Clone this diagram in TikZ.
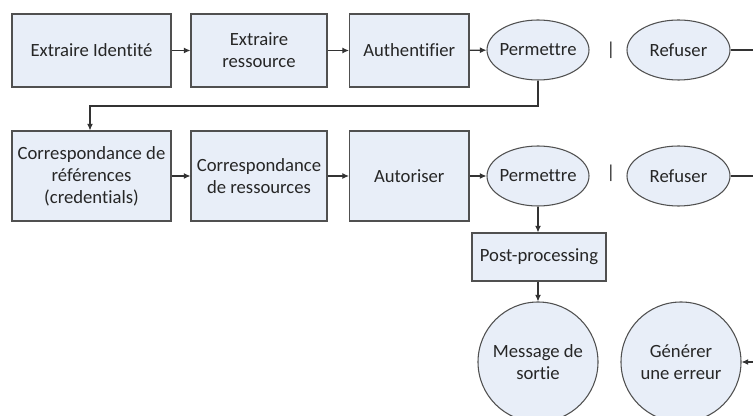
\documentclass[tikz,border=0pt]{standalone}
\usepackage{fontspec}
\setmainfont{Carlito}[Ligatures=NoCommon]
\usetikzlibrary{shapes.geometric,arrows.meta}
\definecolor{boxfill}{RGB}{232,238,248}
\definecolor{boxline}{RGB}{80,80,80}
\definecolor{txt}{RGB}{38,38,38}
\tikzset{
  every node/.style={font=\fontsize{14}{16.5}\selectfont, text=txt},
  stepbox/.style={draw=boxline, fill=boxfill, line width=0.8pt, rectangle, inner sep=0pt, align=center},
  oval/.style={draw=boxline, fill=boxfill, line width=0.8pt, ellipse, inner sep=0pt, minimum width=76.5pt, minimum height=45pt},
  roundnode/.style={draw=boxline, fill=boxfill, line width=0.8pt, circle, inner sep=0pt, minimum size=90pt, align=center},
  conn/.style={draw=black!80, line width=0.8pt},
  arr/.style={conn, -{Latex[length=5pt,width=4.5pt]}},
}
\begin{document}
\begin{tikzpicture}[x=0.75pt,y=-0.75pt]
\useasboundingbox (0,0) rectangle (753,416);
\clip (0,0) rectangle (753,416);
% row 1
\node[stepbox, minimum width=119.25pt, minimum height=54.75pt] (a1) at (91.5,50.5) {Extraire Identité};
\node[stepbox, minimum width=102pt, minimum height=54.75pt] (a2) at (259,50.5) {Extraire\\ressource};
\node[stepbox, minimum width=89.6pt, minimum height=54.75pt] (a3) at (409.25,50.5) {Authentifier};
\node[oval] (p1) at (538,50) {\makebox[0pt]{Permettre}};
\node (s1) at (611,50) {|};
\node[oval, minimum width=77.25pt] (r1) at (678.5,50) {Refuser};
% row 2
\node[stepbox, minimum width=119.25pt, minimum height=67.5pt] (b1) at (91.5,176) {Correspondance de\\références\\(credentials)};
\node[stepbox, minimum width=102pt, minimum height=67.5pt] (b2) at (259,176) {Correspondance\\de ressources};
\node[stepbox, minimum width=89.6pt, minimum height=67.5pt] (b3) at (409.25,176) {Autoriser};
\node[oval] (p2) at (538,176) {\makebox[0pt]{Permettre}};
\node (s2) at (611,173) {|};
\node[oval, minimum width=77.25pt] (r2) at (678.5,176) {Refuser};
% lower part
\node[stepbox, minimum width=100.5pt, minimum height=36pt] (pp) at (539,257) {Post-processing};
\node[roundnode] (m) at (538,362) {Message de\\sortie};
\node[roundnode] (g) at (681,362) {Générer\\une erreur};
\coordinate (off) at (800,0);
% connectors
\draw[arr] (a1) -- (a2);
\draw[arr] (a2) -- (a3);
\draw[arr] (a3) -- (p1);
\draw[arr] (p1.south) |- (90,106) -- (b1.north -| 90,0);
\draw[arr] (b1) -- (b2);
\draw[arr] (b2) -- (b3);
\draw[arr] (b3) -- (p2);
\draw[arr] (p2.south) -- (pp.north -| p2.south);
\draw[arr] (pp.south -| m.north) -- (m.north);
\draw[conn] (r1.east) -- (r1.east -| off);
\draw[arr] (r2.east) -- (r2.east -| off) |- (g.east);
\end{tikzpicture}
\end{document}
